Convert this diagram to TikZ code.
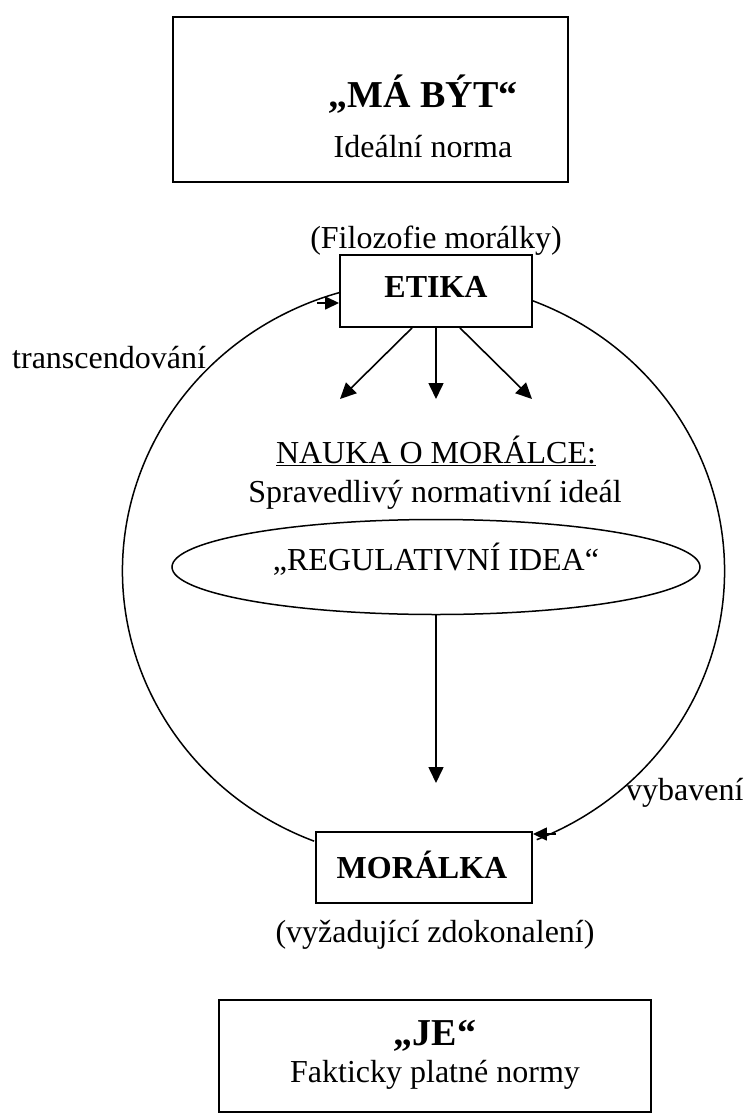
\documentclass[tikz,border=0pt]{standalone}
\usepackage{fontspec}
\setmainfont{Liberation Serif}
\usetikzlibrary{arrows.meta,shapes.geometric}
\begin{document}
\begin{tikzpicture}[x=1pt,y=1pt,
  txt/.style={inner sep=0pt, anchor=base, font=\fontsize{32}{38}\selectfont},
  btxt/.style={inner sep=0pt, anchor=base, font=\fontsize{32}{38}\selectfont\bfseries},
  head/.style={inner sep=0pt, anchor=base, font=\fontsize{38}{44}\selectfont\bfseries},
  bigbox/.style={draw, line width=2.2pt, inner sep=0pt},
  smallbox/.style={draw, line width=1.9pt, inner sep=0pt},
  arr/.style={line width=1.6pt, -{Triangle[length=16pt,width=15pt]}},
  sarr/.style={line width=1.5pt, -{Triangle[length=14pt,width=13pt]}},
  arcline/.style={line width=1.5pt}]
\useasboundingbox (0,0) rectangle (746,-1116);
% boxes
\node[bigbox, minimum width=395pt, minimum height=165pt] (top) at (370.5,-99.5) {};
\node[smallbox, minimum width=192pt, minimum height=72pt] (etika) at (436,-291) {};
\node[smallbox, minimum width=216pt, minimum height=71pt] (mor) at (424,-867.5) {};
\node[bigbox, minimum width=432pt, minimum height=112pt] (je) at (435,-1056) {};
\node[draw, ellipse, line width=1.5pt, inner sep=0pt, minimum width=528pt, minimum height=95pt] (idea) at (436,-567) {};
% texts
\node[head] (t1) at (423,-107) {„MÁ BÝT“};
\node[txt] (t2) at (423,-157) {Ideální norma};
\node[txt] (t3) at (436,-248) {(Filozofie morálky)};
\node[btxt] (t4) at (436,-297) {ETIKA};
\node[txt, anchor=base west] (t5) at (12,-368) {transcendování};
\node[txt] (t6) at (436,-463) {\underline{NAUKA O MORÁLCE:}};
\node[txt] (t7) at (435,-502) {Spravedlivý normativní ideál};
\node[txt] (t8) at (436,-570) {„REGULATIVNÍ IDEA“};
\node[txt, anchor=base west] (t9) at (626,-800) {vybavení};
\node[btxt] (t10) at (422,-878) {MORÁLKA};
\node[txt] (t11) at (435,-942) {(vyžadující zdokonalení)};
\node[head] (t12) at (435,-1045) {„JE“};
\node[txt] (t13) at (435,-1082) {Fakticky platné normy};
% big cycle
\coordinate (c) at (423.5,-571);
\draw[arcline] (c) ++(248.7:301 and 290) arc[start angle=248.7, end angle=106.1, x radius=301, y radius=290];
\draw[arcline] (c) ++(68.9:301 and 290) arc[start angle=68.9, end angle=-67.9, x radius=301, y radius=290];
\coordinate (la) at (317,-303);
\draw[sarr] (la) -- (la -| etika.west);
\coordinate (ra) at (556,-834);
\draw[sarr] (ra) -- (ra -| mor.east);
% arrows from ETIKA
\coordinate (tl) at (340,-399);
\coordinate (tm) at (436,-399);
\coordinate (tr) at (532,-399);
\draw[arr] ([xshift=-24pt]etika.south) -- (tl);
\draw[arr] (etika.south) -- (tm);
\draw[arr] ([xshift=24pt]etika.south) -- (tr);
% idea to moralka
\coordinate (vt) at (436,-783);
\draw[arr] (idea.south) -- (vt);
\end{tikzpicture}
\end{document}
